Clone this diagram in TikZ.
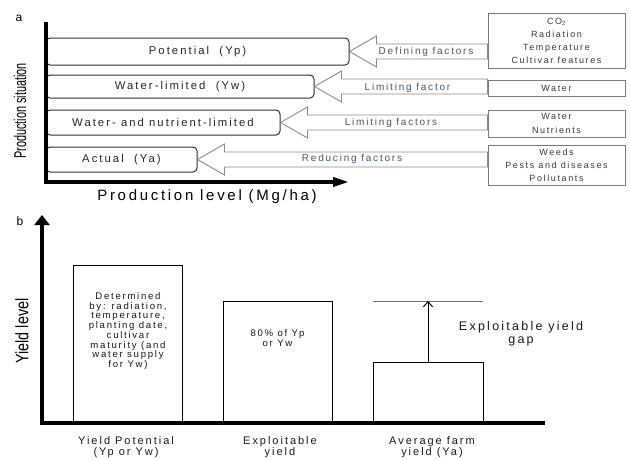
\documentclass[tikz,border=0pt]{standalone}
\usepackage{fontspec}
\usepackage{graphicx}
\setmainfont{Liberation Sans}[LetterSpace=18]
\newfontfamily\plainf{Liberation Sans}
\usetikzlibrary{arrows.meta,calc}
\definecolor{boxline}{HTML}{303030}
\definecolor{arrline}{HTML}{8C8C8C}
\definecolor{arrtext}{HTML}{46596A}
\definecolor{factext}{HTML}{3A3A3A}
\definecolor{facline}{HTML}{7A7A7A}
\tikzset{
  levelbox/.style={draw=boxline, line width=1pt, rounded corners=4pt, inner sep=0pt, fill=white,
    font=\fontsize{11.3}{12}\selectfont, text=black!85},
  fat/.style={draw=arrline, line width=0.9pt, fill=white, line join=miter},
  arrlab/.style={inner sep=1pt, font=\fontsize{10}{11}\selectfont, text=arrtext},
  facbox/.style={draw=facline, line width=0.8pt, inner sep=0pt, fill=white, align=center,
    font=\fontsize{9}{13}\selectfont, text=factext},
  bar/.style={draw=black, line width=1pt, inner sep=0pt, fill=white},
  bartext/.style={align=center, inner sep=0pt, text=black!90},
  panellab/.style={inner sep=0pt, font=\plainf\fontsize{12}{12}\selectfont}
}
\newcommand\fatarrow[2]{%
  \draw[fat] (#1.east) -- ($(#1.east)+(27,-15.5)$) -- ($(#1.east)+(27,-7.5)$)
    -- ($(#1.east -| #2.west)+(0,-7.5)$) -- ($(#1.east -| #2.west)+(0,7.5)$)
    -- ($(#1.east)+(27,7.5)$) -- ($(#1.east)+(27,15.5)$) -- cycle;}
\begin{document}
\begin{tikzpicture}[x=1pt,y=-1pt]
\useasboundingbox (0,0) rectangle (630,459);
\fill[white] (0,0) rectangle (630,459);
% ---------- panel a ----------
\node[panellab] (la) at (19,18) {a};
\node[levelbox, minimum width=303pt, minimum height=27pt] (yp) at (197.5,51.5) {Potential\ \ (Yp)};
\node[levelbox, minimum width=268pt, minimum height=23pt] (yw) at (180,86.5) {Water-limited\ \ (Yw)};
\node[levelbox, minimum width=234pt, minimum height=25pt] (ywn) at (163,122.5) {Water- and nutrient-limited};
\node[levelbox, minimum width=151pt, minimum height=25pt] (ya) at (121.5,159.5) {Actual\ \ (Ya)};

\node[facbox, minimum width=137pt, minimum height=55pt] (f1) at (556.5,40.5) {CO\textsubscript{2}\\Radiation\\Temperature\\Cultivar features};
\node[facbox, minimum width=137pt, minimum height=16pt] (f2) at (556.5,88) {Water};
\node[facbox, minimum width=137pt, minimum height=27pt, font=\fontsize{9}{14}\selectfont] (f3) at (556.5,123.5) {Water\\Nutrients};
\node[facbox, minimum width=137pt, minimum height=40pt] (f4) at (556.5,165) {Weeds\\Pests and diseases\\Pollutants};

\fatarrow{yp}{f1}
\fatarrow{yw}{f2}
\fatarrow{ywn}{f3}
\fatarrow{ya}{f4}

\node[arrlab] (d1) at (426,52) {Defining factors};
\node[arrlab] (d2) at (407.5,88) {Limiting factor};
\node[arrlab] (d3) at (391,123) {Limiting factors};
\node[arrlab] (d4) at (352,159) {Reducing factors};

\coordinate (atop) at (46,22);
\coordinate (aorig) at (46,182);
\coordinate (aend) at (349,182);
\draw[line width=3.5pt, line join=miter, -{Triangle[length=16pt,width=9pt]}] (atop) -- (aorig) -- (aend);

\node[inner sep=0pt, rotate=90] (ps) at (20,111) {\plainf\fontsize{17}{17}\selectfont\scalebox{0.64}[1]{Production situation}};
\node[inner sep=0pt, font=\fontsize{15}{16}\selectfont] (pl) at (207,197) {Production level (Mg/ha)};

% ---------- panel b ----------
\node[panellab] (lb) at (20,221) {b};
\node[bar, minimum width=109pt, minimum height=158pt] (b1) at (127.5,344) {};
\node[bar, minimum width=109pt, minimum height=122pt] (b2) at (277.5,362) {};
\node[bar, minimum width=110pt, minimum height=61pt] (b3) at (428,392.5) {};

\coordinate (bo) at (42,423);
\coordinate (btop) at (42,215);
\coordinate (bend) at (545,423);
\draw[line width=3.5pt] (bo) -- (bend);
\draw[line width=4pt, -{Triangle[length=10pt,width=15pt]}] ($(bo)+(0,1.75)$) -- (btop);

\node[bartext, font=\fontsize{9.6}{9.7}\selectfont] (t1) at (128,331) {Determined\\by: radiation,\\temperature,\\planting date,\\cultivar\\maturity (and\\water supply\\for Yw)};
\node[bartext, font=\fontsize{9.6}{10}\selectfont] (t2) at (277.5,338) {80\% of Yp\\or Yw};

\coordinate (g1) at (373,301);
\coordinate (g2) at (483,301);
\draw[black!55, line width=0.9pt] (g1) -- (g2);
\draw[line width=1pt, -{Straight Barb[length=5pt,width=9pt]}] (b3.north) -- (b3.north |- g1);
\node[bartext, font=\fontsize{12.5}{12.5}\selectfont] (gap) at (521,334) {Exploitable yield\\gap};

\node[inner sep=0pt, rotate=90] (yl) at (22,331) {\plainf\fontsize{18}{18}\selectfont\scalebox{0.8}[1]{Yield level}};

\node[bartext, font=\fontsize{11}{11}\selectfont] (x1) at (126,447) {Yield Potential\\(Yp or Yw)};
\node[bartext, font=\fontsize{11}{11}\selectfont] (x2) at (280,447) {Exploitable\\yield};
\node[bartext, font=\fontsize{11}{11}\selectfont] (x3) at (432,447) {Average farm\\yield (Ya)};
\end{tikzpicture}
\end{document}
